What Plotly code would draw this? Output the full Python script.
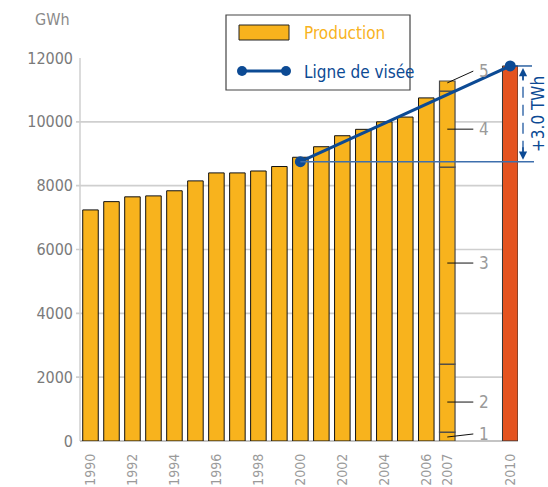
import plotly.graph_objects as go

# ---- data -------------------------------------------------------------
years = list(range(1990, 2007))
production = [7240, 7500, 7650, 7680, 7840, 8150, 8400, 8400, 8460, 8600,
              8890, 9220, 9565, 9765, 10000, 10150, 10750]

# 2007 production split into five components (GWh)
seg_names = ["1", "2", "3", "4", "5"]
seg_values = [280, 2130, 6170, 2380, 320]

target_start_year, target_start = 2000, 8750
target_year, target_value = 2010, 11750
target_gain_label = "+3.0 TWh"

tick_years = [1990, 1992, 1994, 1996, 1998, 2000, 2002, 2004, 2006, 2007, 2010]
y_ticks = [0, 2000, 4000, 6000, 8000, 10000, 12000]

# ---- style ------------------------------------------------------------
ORANGE = "#F8B31D"
RED = "#E4531F"
BLUE = "#0C4A94"
THIN_BLUE = "#3E6FAD"
GRID = "#CFCFCF"
FONT = "DejaVu Sans Condensed, Liberation Sans Narrow, Roboto, sans-serif"

W_FIG, H_FIG = 548, 487
L, R, T, B = 80, 30, 58, 46
PW, PH = W_FIG - L - R, H_FIG - T - B
X0, X1 = 1989.5, 2010.37
Y_MAX = 12000


def xp(year):
    return (year - X0) / (X1 - X0)


def yp(v):
    return v / Y_MAX


def px(x):
    return (x - L) / PW


def py(y):
    return (H_FIG - B - y) / PH


# cumulative bases for the stacked 2007 bar
seg_bases = []
acc = 0
for v in seg_values:
    seg_bases.append(acc)
    acc += v
seg_mids = [b + v / 2 for b, v in zip(seg_bases, seg_values)]

# where each component's leader starts inside the bar and where its label sits
leader_start_shift = [-15, -125, 80, 0, 100]
label_shift = [80, -125, 80, 0, 470]
leader_starts = [m + s for m, s in zip(seg_mids, leader_start_shift)]
label_ys = [m + s for m, s in zip(seg_mids, label_shift)]

fig = go.Figure()

fig.add_trace(go.Bar(
    x=years, y=production, width=0.74,
    marker=dict(color=ORANGE, line=dict(color="#111111", width=1)),
    hoverinfo="x+y",
))
fig.add_trace(go.Bar(
    x=[2007] * len(seg_values), y=seg_values, base=seg_bases, width=0.74,
    marker=dict(color=ORANGE, line=dict(color="#4a4a4a", width=1.2)),
    hoverinfo="y",
))
fig.add_trace(go.Bar(
    x=[target_year], y=[target_value], width=0.74,
    marker=dict(color=RED, line=dict(color="#333333", width=1)),
))
fig.add_trace(go.Scatter(
    x=[target_start_year, target_year], y=[target_start, target_value],
    mode="lines+markers", cliponaxis=False,
    line=dict(color=BLUE, width=3),
    marker=dict(color=BLUE, size=11),
))

shapes = []
# horizontal grid lines with small outside ticks
for v in y_ticks[1:-1]:
    shapes.append(dict(type="line", xref="paper", yref="paper",
                       x0=px(76), x1=1.0, y0=yp(v), y1=yp(v),
                       line=dict(color=GRID, width=1.6), layer="below"))
# left axis and baseline
shapes.append(dict(type="line", xref="paper", yref="paper",
                   x0=0, x1=0, y0=0, y1=1, line=dict(color=GRID, width=1.5),
                   layer="below"))
shapes.append(dict(type="line", xref="paper", yref="paper",
                   x0=0, x1=1.0, y0=0, y1=0, line=dict(color="#C4C4C4", width=2.2),
                   layer="below"))

# reference lines for the target gap
shapes.append(dict(type="line", xref="paper", yref="paper",
                   x0=xp(target_start_year), x1=px(534),
                   y0=yp(target_start), y1=yp(target_start),
                   line=dict(color=THIN_BLUE, width=1.3)))
shapes.append(dict(type="line", xref="paper", yref="paper",
                   x0=xp(target_year), x1=px(532),
                   y0=yp(target_value), y1=yp(target_value),
                   line=dict(color=BLUE, width=1.3)))
arrow_x = px(523)
shapes.append(dict(type="line", xref="paper", yref="paper",
                   x0=arrow_x, x1=arrow_x,
                   y0=yp(target_start) + 10 / PH, y1=yp(target_value) - 10 / PH,
                   line=dict(color=THIN_BLUE, width=1.5, dash="11px,7px")))

# leader lines for the 2007 components
for s, ly in zip(leader_starts, label_ys):
    shapes.append(dict(type="line", xref="x", yref="y",
                       x0=2007, x1=2008.24, y0=s, y1=ly,
                       line=dict(color="#111111", width=1)))

# legend box
shapes.append(dict(type="rect", xref="paper", yref="paper",
                   x0=px(226), x1=px(410), y0=py(90), y1=py(15),
                   fillcolor="white", line=dict(color="#444444", width=1.2)))
shapes.append(dict(type="rect", xref="paper", yref="paper",
                   x0=px(239), x1=px(289), y0=py(40), y1=py(25),
                   fillcolor=ORANGE, line=dict(color="#222222", width=1)))
shapes.append(dict(type="line", xref="paper", yref="paper",
                   x0=px(242), x1=px(286), y0=py(71), y1=py(71),
                   line=dict(color=BLUE, width=3)))
for cx in (242, 286):
    shapes.append(dict(type="circle", xref="paper", yref="paper",
                       x0=px(cx - 5), x1=px(cx + 5), y0=py(76), y1=py(66),
                       fillcolor=BLUE, line=dict(color=BLUE, width=0)))

annotations = [
    dict(text="GWh", xref="paper", yref="paper", x=px(33), y=py(20),
         xanchor="left", yanchor="middle", showarrow=False,
         font=dict(size=16, color="#8a8a8a")),
    dict(text="Production", xref="paper", yref="paper", x=px(302), y=py(33),
         xanchor="left", yanchor="middle", showarrow=False,
         font=dict(size=17, color=ORANGE)),
    dict(text="Ligne de visée", xref="paper", yref="paper", x=px(302), y=py(72),
         xanchor="left", yanchor="middle", showarrow=False,
         font=dict(size=17, color=BLUE)),
    dict(text=target_gain_label, xref="paper", yref="paper", x=px(538), y=py(114),
         xanchor="center", yanchor="middle", textangle=-90, showarrow=False,
         font=dict(size=17, color=BLUE)),
    # arrow heads of the dashed double arrow
    dict(text="", xref="paper", yref="paper", x=arrow_x, y=yp(target_value) - 2 / PH,
         ax=0, ay=14, showarrow=True, arrowhead=2, arrowsize=1.1,
         arrowwidth=1.5, arrowcolor=BLUE),
    dict(text="", xref="paper", yref="paper", x=arrow_x, y=yp(target_start) + 2 / PH,
         ax=0, ay=-14, showarrow=True, arrowhead=2, arrowsize=1.1,
         arrowwidth=1.5, arrowcolor=BLUE),
]
for name, ly in zip(seg_names, label_ys):
    annotations.append(dict(text=name, xref="x", yref="y", x=2008.4, y=ly,
                            xanchor="left", yanchor="middle", showarrow=False,
                            font=dict(size=17, color="#9a9a9a")))

fig.update_layout(
    width=W_FIG, height=H_FIG,
    margin=dict(l=L, r=R, t=T, b=B),
    paper_bgcolor="white", plot_bgcolor="white",
    barmode="overlay", showlegend=False,
    font=dict(family=FONT),
    shapes=shapes, annotations=annotations,
    xaxis=dict(range=[X0, X1], tickvals=tick_years,
               ticktext=[str(y) for y in tick_years], tickangle=-90,
               tickfont=dict(size=14, color="#9a9a9a"),
               showgrid=False, zeroline=False, showline=False, ticks="",
               ticklabelstandoff=9, automargin=False),
    yaxis=dict(range=[0, Y_MAX], tickvals=y_ticks,
               ticktext=[str(v) for v in y_ticks],
               tickfont=dict(size=16, color="#7a7a7a"),
               showgrid=False, zeroline=False, showline=False, ticks="",
               ticklabelstandoff=6, automargin=False),
)

fig.write_html("out.html")
